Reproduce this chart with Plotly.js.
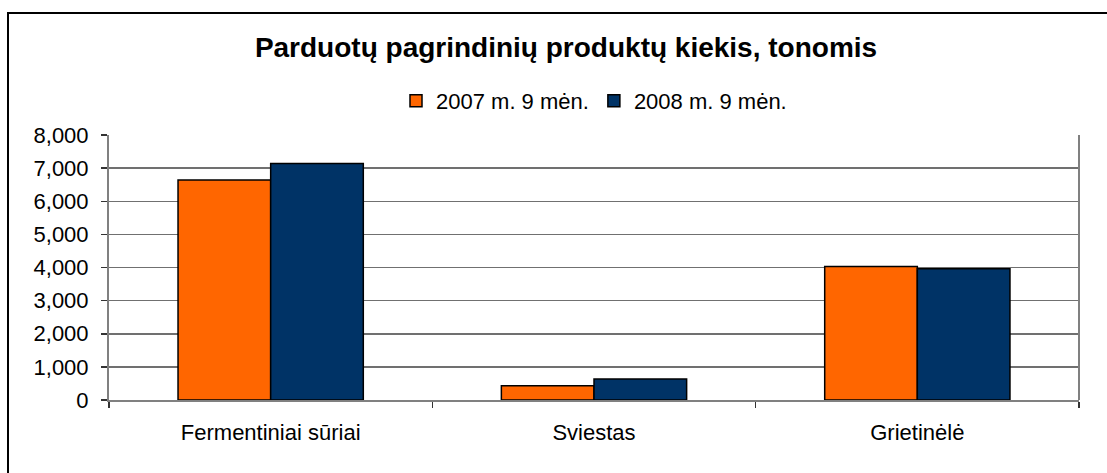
<!DOCTYPE html>
<html>
<head>
<meta charset="utf-8">
<script src="https://cdn.plot.ly/plotly-3.0.1.min.js"></script>
<style>
html,body{margin:0;padding:0;background:#fff;}
#chart{width:1107px;height:473px;}
</style>
</head>
<body>
<div id="chart"></div>
<script>
const categories = ["Fermentiniai sūriai", "Sviestas", "Grietinėlė"];
const series2007 = [6640, 430, 4030];
const series2008 = [7140, 635, 3960];
const seriesNames = ["2007 m. 9 mėn.", "2008 m. 9 mėn."];
const tickVals = [0, 1000, 2000, 3000, 4000, 5000, 6000, 7000, 8000];
const tickText = ["0", "1,000", "2,000", "3,000", "4,000", "5,000", "6,000", "7,000", "8,000"];

const font = "Liberation Sans, Arial, sans-serif";
const traces = [
  {type: "bar", x: categories, y: series2007, name: seriesNames[0],
   marker: {color: "#FF6600", line: {color: "#000", width: 1.5}}},
  {type: "bar", x: categories, y: series2008, name: seriesNames[1],
   marker: {color: "#003366", line: {color: "#000", width: 1.5}}}
];

const L = 109, R = 28, T = 135, B = 73;
const W = 1107 - L - R, H = 473 - T - B;

const layout = {
  width: 1107, height: 473,
  margin: {l: L, r: R, t: T, b: B, pad: 0},
  paper_bgcolor: "#fff", plot_bgcolor: "#fff",
  font: {family: font, color: "#000", size: 22},
  title: {text: "<b>Parduotų pagrindinių produktų kiekis, tonomis</b>",
          font: {family: font, size: 28, color: "#000"},
          x: 566/1107, xref: "container", xanchor: "center", y: 1 - 47/473, yanchor: "middle"},
  barmode: "group", bargap: 0.427, bargroupgap: 0,
  showlegend: true,
  legend: {orientation: "h", x: 0.5, xanchor: "center", y: 1 + 34/H, yanchor: "middle",
           font: {family: font, size: 22, color: "#000"}, itemwidth: 30, tracegroupgap: 0,
           bgcolor: "rgba(0,0,0,0)"},
  xaxis: {type: "category", showgrid: false, showline: true, linecolor: "#808080", linewidth: 2,
          ticks: "outside", tickson: "boundaries", ticklen: 6, tickcolor: "#333", tickwidth: 1.5,
          ticklabelstandoff: 12,
          tickfont: {family: font, size: 22, color: "#000"}, zeroline: false},
  yaxis: {range: [0, 8000], tickvals: tickVals, ticktext: tickText,
          showgrid: true, gridcolor: "#707070", gridwidth: 1.5,
          showline: true, linecolor: "#808080", linewidth: 2,
          ticks: "outside", ticklen: 6, tickcolor: "#333", tickwidth: 1.5,
          ticklabelstandoff: 8,
          tickfont: {family: font, size: 22, color: "#000"}, zeroline: false},
  shapes: [
    {type: "line", xref: "paper", yref: "paper", x0: 1, x1: 1, y0: 0, y1: 1,
     line: {color: "#808080", width: 2}},
    {type: "rect", xref: "paper", yref: "paper",
     x0: (8 - L)/W, x1: (1115 - L)/W, y0: (400 - 480)/H, y1: (400 - 13)/H,
     line: {color: "#000", width: 2}, fillcolor: "rgba(0,0,0,0)", layer: "below"}
  ]
};

Plotly.newPlot("chart", traces, layout, {displayModeBar: false, staticPlot: true});
</script>
</body>
</html>
